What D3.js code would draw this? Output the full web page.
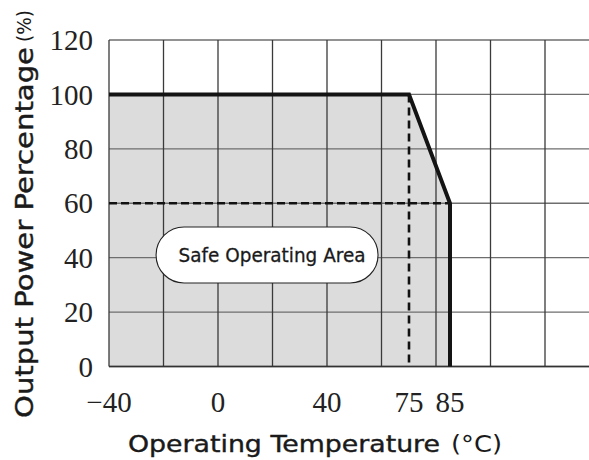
<!DOCTYPE html>
<html>
<head>
<meta charset="utf-8">
<script src="https://cdn.jsdelivr.net/npm/d3@7"></script>
<style>
  html, body { margin: 0; padding: 0; background: #fff; }
  svg { display: block; }
</style>
</head>
<body>
<svg id="chart" width="589" height="460"></svg>
<script>
// ---- data ----
const curveTemps = [-40, 75, 85, 85];
const curvePower = [100, 100, 60, 0];
const xTickValues = [-40, 0, 40, 75, 85];
const xTickLabels = ["\u221240", "0", "40", "75", "85"];
const yTickValues = [0, 20, 40, 60, 80, 100, 120];
const gridTemps = [-40, -20, 0, 20, 40, 60, 80, 100, 120];
const refTemp = 75;      // dashed vertical reference
const refPower = 60;     // dashed horizontal reference
const refEndTemp = 85;
const areaLabel = "Safe Operating Area";
const areaLabelAt = [18, 41];
const xTitle = "Operating Temperature";
const xUnit = "(\u00b0C)";
const yTitle = "Output Power Percentage";
const yUnit = "(%)";

// ---- layout ----
const L = 109, R = 545, T = 40, B = 366.5, W = 589;
const svg = d3.select("#chart");

// schematic (non-uniform) temperature scale as drawn in the reference
const x = d3.scaleLinear().domain([-40, 40, 75, 85, 120]).range([L, 327, 409, 450, R]);
// uniform grid scale
const gx = d3.scaleLinear().domain([-40, 120]).range([L, R]);
const y = d3.scaleLinear().domain([0, 120]).range([B, T]);

// shaded area
const pts = curveTemps.map((t, i) => [t, curvePower[i]]);
const area = d3.area().x(d => x(d[0])).y0(y(0)).y1(d => y(d[1]));
svg.append("path").datum(pts).attr("d", area).attr("fill", "#dcdcdc");

// horizontal grid lines (extend past the right edge)
svg.append("g").selectAll("line").data(yTickValues).join("line")
  .attr("x1", L).attr("x2", W).attr("y1", d => y(d)).attr("y2", d => y(d))
  .attr("stroke", "#6e6e6e").attr("stroke-width", 1.4);

// vertical grid lines
svg.append("g").selectAll("line").data(gridTemps).join("line")
  .attr("x1", d => gx(d)).attr("x2", d => gx(d)).attr("y1", T).attr("y2", B)
  .attr("stroke", "#3a3a3a").attr("stroke-width", 1.3);

// bottom axis line
svg.append("line").attr("x1", L).attr("x2", W).attr("y1", y(0)).attr("y2", y(0))
  .attr("stroke", "#333").attr("stroke-width", 1.5);

// dashed reference lines
svg.append("line")
  .attr("x1", x(-40)).attr("x2", x(refEndTemp)).attr("y1", y(refPower)).attr("y2", y(refPower))
  .attr("stroke", "#111").attr("stroke-width", 2.4).attr("stroke-dasharray", "8,4");
svg.append("line")
  .attr("x1", x(refTemp)).attr("x2", x(refTemp)).attr("y1", y(100)).attr("y2", y(0))
  .attr("stroke", "#111").attr("stroke-width", 2.6).attr("stroke-dasharray", "8,5");

// derating curve
const line = d3.line().x(d => x(d[0])).y(d => y(d[1]));
svg.append("path").datum(pts).attr("d", line)
  .attr("fill", "none").attr("stroke", "#141414").attr("stroke-width", 4)
  .attr("stroke-linejoin", "miter");

// annotation bubble
const bx = x(areaLabelAt[0]), by = y(areaLabelAt[1]);
const bw = 222, bh = 56;
svg.append("rect").attr("x", bx - bw / 2).attr("y", by - bh / 2)
  .attr("width", bw).attr("height", bh).attr("rx", bh / 2).attr("ry", bh / 2)
  .attr("fill", "#fff").attr("stroke", "#222").attr("stroke-width", 1.1);
svg.append("text").attr("x", bx + 5).attr("y", by + 7)
  .attr("text-anchor", "middle")
  .attr("font-family", "'DejaVu Sans', sans-serif").attr("font-size", 20)
  .attr("textLength", 187).attr("lengthAdjust", "spacingAndGlyphs")
  .attr("fill", "#1a1a1a").attr("stroke", "#1a1a1a").attr("stroke-width", 0.3)
  .text(areaLabel);

// tick labels
const serif = "'Liberation Serif', 'Times New Roman', serif";
svg.append("g").selectAll("text").data(yTickValues).join("text")
  .attr("x", 93).attr("y", d => y(d)).attr("dy", "0.35em")
  .attr("text-anchor", "end").attr("font-family", serif).attr("font-size", 29)
  .attr("fill", "#222").text(d => d);
svg.append("g").selectAll("text").data(xTickValues).join("text")
  .attr("x", d => x(d)).attr("y", 412)
  .attr("text-anchor", "middle").attr("font-family", serif).attr("font-size", 29)
  .attr("fill", "#222").text((d, i) => xTickLabels[i]);

// axis titles
const sans = "'DejaVu Sans', sans-serif";
svg.append("text").attr("x", 128).attr("y", 452)
  .attr("font-family", sans).attr("font-size", 23)
  .attr("textLength", 312).attr("lengthAdjust", "spacingAndGlyphs")
  .attr("fill", "#1a1a1a").attr("stroke", "#1a1a1a").attr("stroke-width", 0.4)
  .text(xTitle);
svg.append("text").attr("x", 451).attr("y", 452)
  .attr("font-family", sans).attr("font-size", 23)
  .attr("textLength", 51).attr("lengthAdjust", "spacingAndGlyphs")
  .attr("fill", "#1a1a1a").text(xUnit);

svg.append("text").attr("transform", "translate(33,418) rotate(-90)")
  .attr("font-family", sans).attr("font-size", 24)
  .attr("textLength", 371).attr("lengthAdjust", "spacingAndGlyphs")
  .attr("fill", "#1a1a1a").attr("stroke", "#1a1a1a").attr("stroke-width", 0.4)
  .text(yTitle);
svg.append("text").attr("transform", "translate(31,42) rotate(-90)")
  .attr("font-family", sans).attr("font-size", 19)
  .attr("textLength", 32).attr("lengthAdjust", "spacingAndGlyphs")
  .attr("fill", "#1a1a1a").text(yUnit);
</script>
</body>
</html>
